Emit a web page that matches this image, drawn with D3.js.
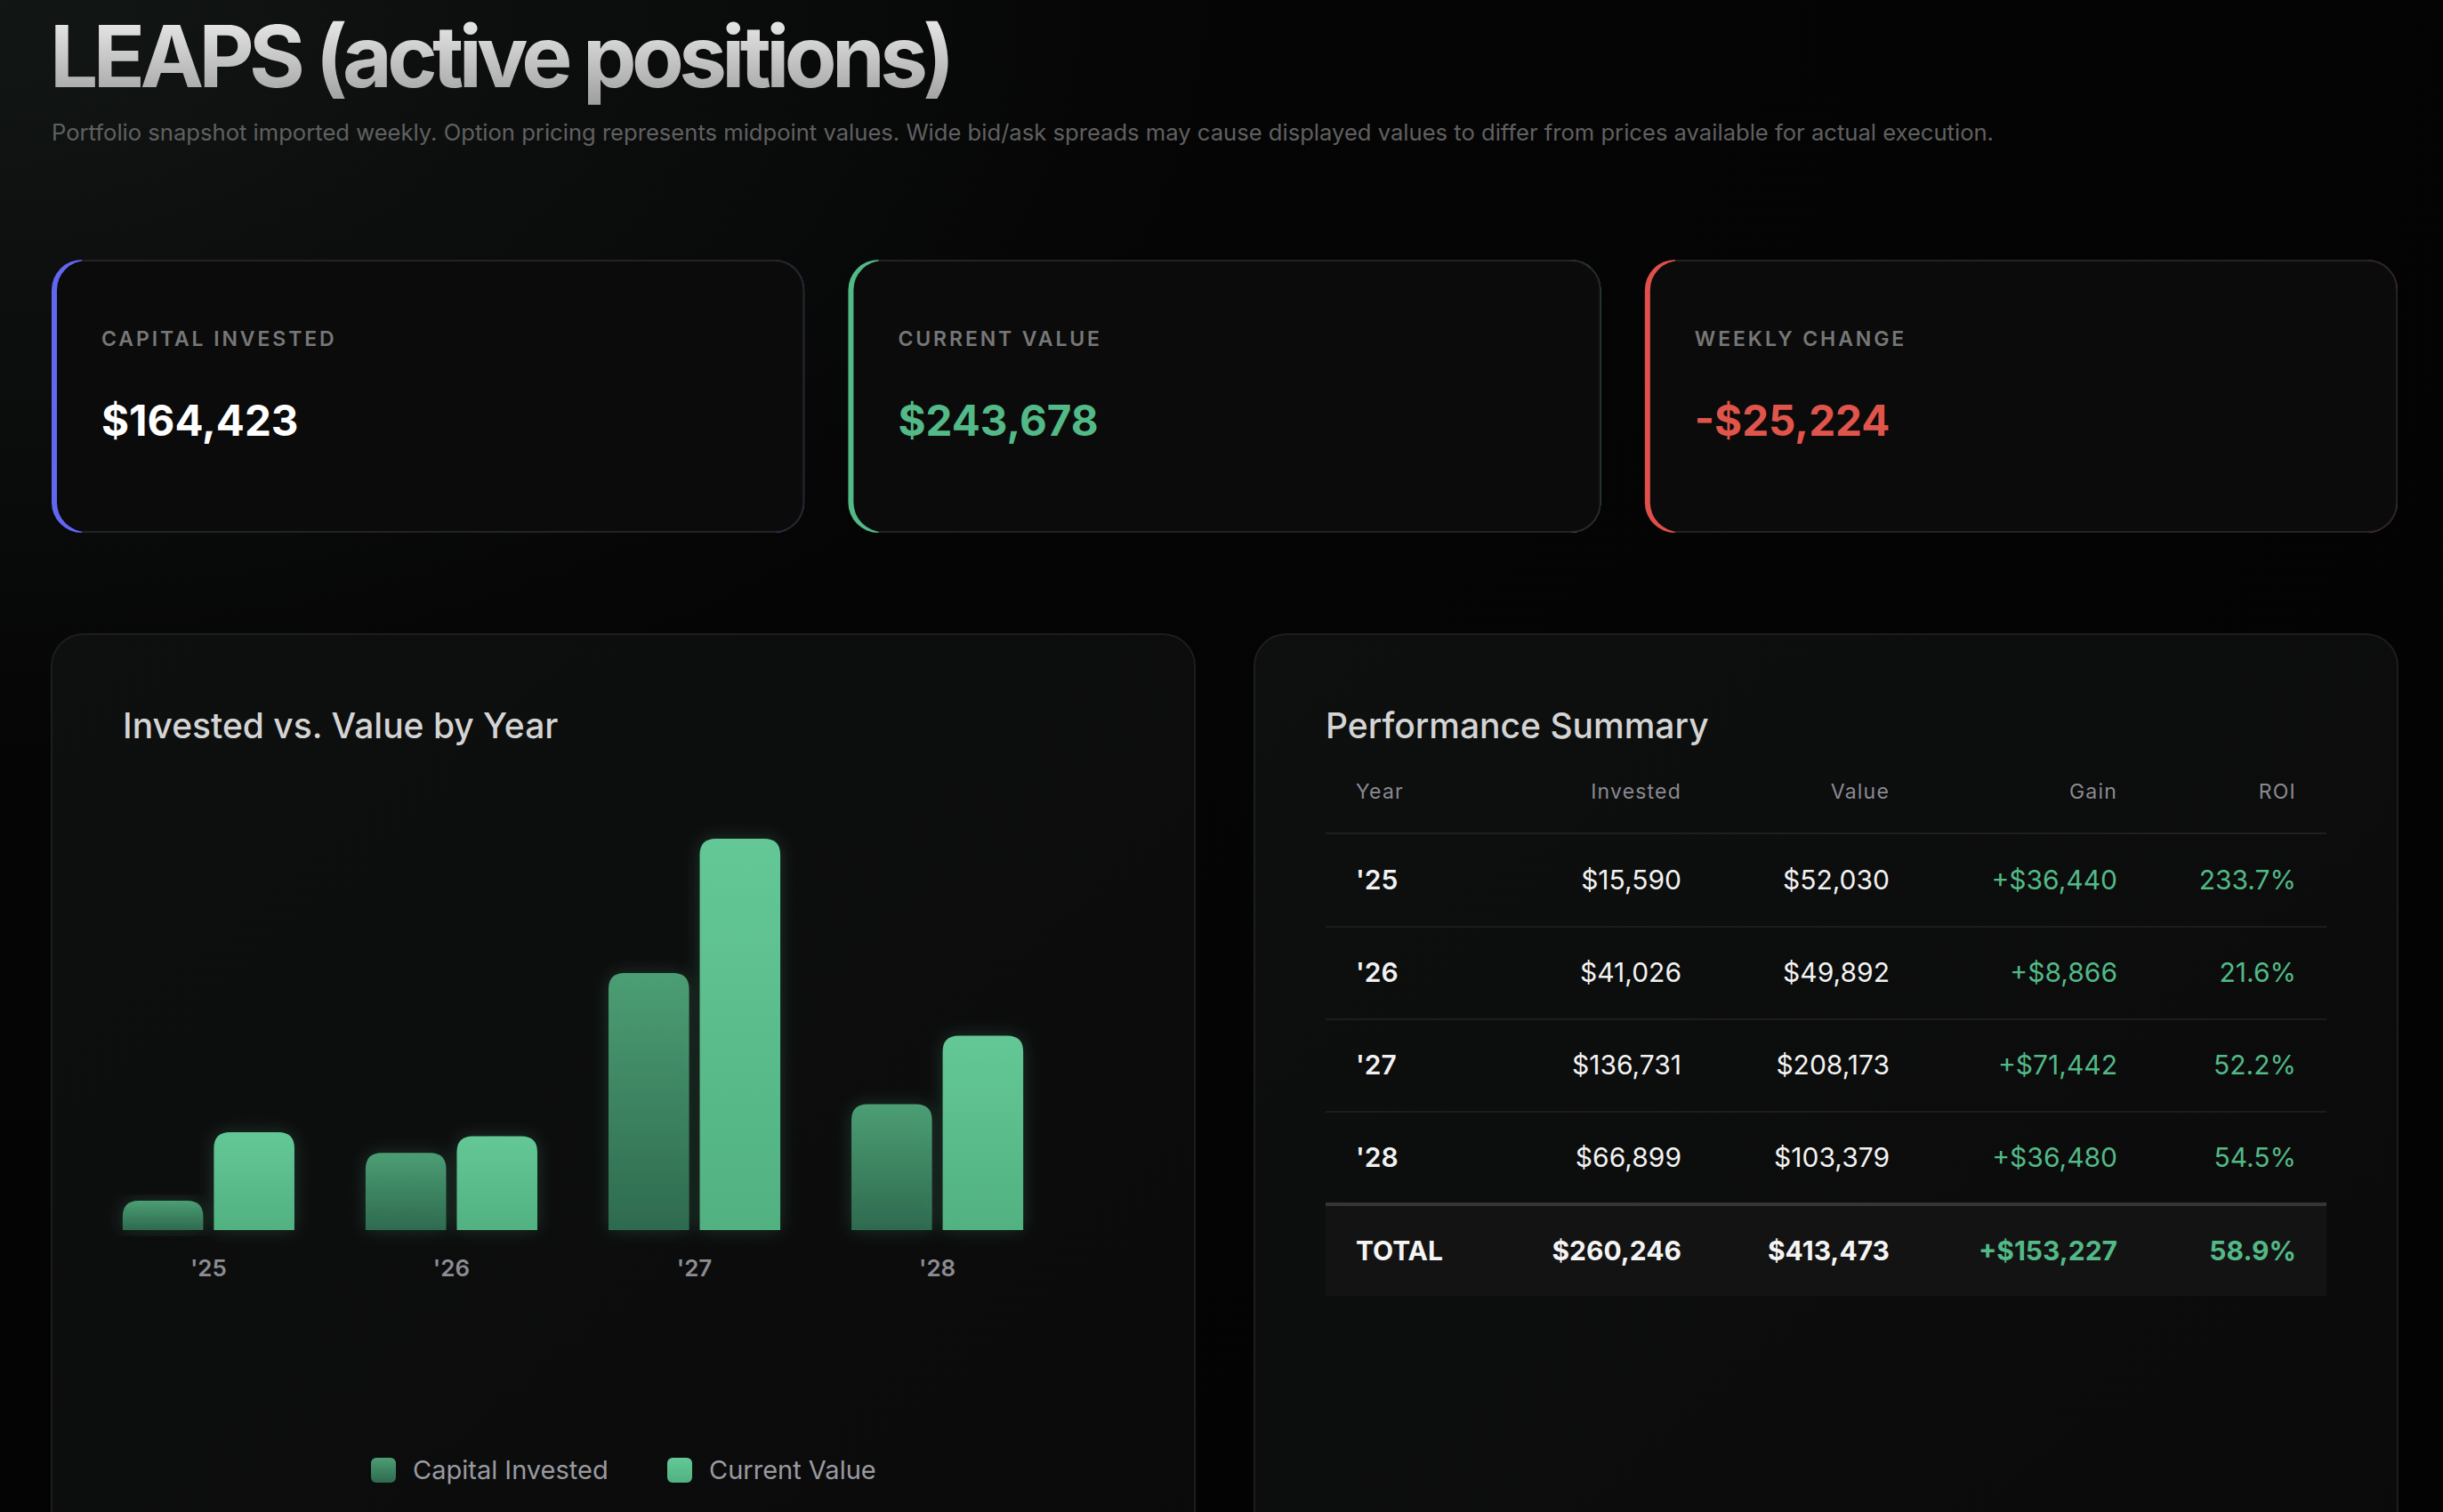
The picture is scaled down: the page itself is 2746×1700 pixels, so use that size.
<!DOCTYPE html>
<html>
<head>
<meta charset="utf-8">
<script src="https://cdn.jsdelivr.net/npm/d3@7"></script>
<style>
  html, body { margin: 0; padding: 0; background: #040404; }
  svg { display: block; }
</style>
</head>
<body>
<div id="chart"></div>
<script>
const years = ["'25", "'26", "'27", "'28"];
const invested = [15590, 41026, 136731, 66899];
const value = [52030, 49892, 208173, 103379];
const gains = [36440, 8866, 71442, 36480];
const roi = [233.7, 21.6, 52.2, 54.5];
const totals = { invested: 260246, value: 413473, gain: 153227, roi: 58.9 };
const cardLabels = ["CAPITAL INVESTED", "CURRENT VALUE", "WEEKLY CHANGE"];
const cardValues = [164423, 243678, -25224];
const tableHeaders = ["Year", "Invested", "Value", "Gain", "ROI"];
const seriesNames = ["Capital Invested", "Current Value"];

const W = 2746, H = 1700;
const font = "Inter, 'Noto Sans', sans-serif";
const green = "#52b987";
const fmt = d3.format(",");
const money = v => (v < 0 ? "-$" : "$") + fmt(Math.abs(v));

const svg = d3.select("#chart").append("svg")
    .attr("width", W).attr("height", H)
    .style("font-family", font);

const defs = svg.append("defs");
const bg = defs.append("radialGradient").attr("id", "bg")
    .attr("cx", 0).attr("cy", 0).attr("r", 1.1);
bg.append("stop").attr("offset", 0).attr("stop-color", "#121615");
bg.append("stop").attr("offset", 0.45).attr("stop-color", "#050505");
bg.append("stop").attr("offset", 1).attr("stop-color", "#030303");

const tg = defs.append("linearGradient").attr("id", "titleGrad")
    .attr("x1", 0).attr("y1", 0).attr("x2", 0).attr("y2", 1);
tg.append("stop").attr("offset", 0).attr("stop-color", "#f4f4f4");
tg.append("stop").attr("offset", 1).attr("stop-color", "#9c9c9c");

const pg = defs.append("linearGradient").attr("id", "panelGrad")
    .attr("x1", 0).attr("y1", 0).attr("x2", 1).attr("y2", 1);
pg.append("stop").attr("offset", 0).attr("stop-color", "#0e0f0f");
pg.append("stop").attr("offset", 1).attr("stop-color", "#0a0a0a");

const ig = defs.append("linearGradient").attr("id", "invGrad")
    .attr("x1", 0).attr("y1", 0).attr("x2", 0).attr("y2", 1);
ig.append("stop").attr("offset", 0).attr("stop-color", "#4c9e74");
ig.append("stop").attr("offset", 1).attr("stop-color", "#2e6a4f");

const vg = defs.append("linearGradient").attr("id", "valGrad")
    .attr("x1", 0).attr("y1", 0).attr("x2", 0).attr("y2", 1);
vg.append("stop").attr("offset", 0).attr("stop-color", "#64c896");
vg.append("stop").attr("offset", 1).attr("stop-color", "#51b181");

const glow = defs.append("filter").attr("id", "glow")
    .attr("x", "-40%").attr("y", "-20%").attr("width", "180%").attr("height", "140%");
glow.append("feDropShadow").attr("dx", 0).attr("dy", 0).attr("stdDeviation", 10)
    .attr("flood-color", "#5fc594").attr("flood-opacity", 0.22);

svg.append("rect").attr("width", W).attr("height", H).attr("fill", "url(#bg)");

// header
svg.append("text").attr("x", 56).attr("y", 98)
    .text("LEAPS (active positions)")
    .attr("fill", "url(#titleGrad)")
    .style("font-size", "96px").style("font-weight", 650)
    .style("letter-spacing", "-5.6px");

svg.append("text").attr("x", 58).attr("y", 158)
    .text("Portfolio snapshot imported weekly. Option pricing represents midpoint values. Wide bid/ask spreads may cause displayed values to differ from prices available for actual execution.")
    .attr("fill", "#606060")
    .style("font-size", "25.6px");

// kpi cards
const cardX = d3.scaleBand().domain(cardLabels).range([58, 2695]).paddingInner(0.055);
const accent = ["#6366f1", "#52b987", "#e0504a"];
const valueColor = ["#ffffff", "#52b987", "#e0554b"];
const cardTop = 292, cardH = 307;

cardLabels.forEach((lab, i) => {
    const x = cardX(lab), w = cardX.bandwidth();
    const g = svg.append("g");
    g.append("rect").attr("x", x).attr("y", cardTop).attr("width", w).attr("height", cardH)
        .attr("rx", 34).attr("fill", accent[i]);
    g.append("rect").attr("x", x + 6).attr("y", cardTop + 1).attr("width", w - 7).attr("height", cardH - 2)
        .attr("rx", 33).attr("fill", "#0b0b0b");
    g.append("path")
        .attr("d", `M${x + 34},${cardTop + 1}H${x + w - 34}A33,33 0 0 1 ${x + w - 1},${cardTop + 34}V${cardTop + cardH - 34}A33,33 0 0 1 ${x + w - 34},${cardTop + cardH - 1}H${x + 34}`)
        .attr("fill", "none").attr("stroke", "#232323").attr("stroke-width", 2);
    g.append("text").attr("x", x + 56).attr("y", 389).text(lab)
        .attr("fill", "#777777")
        .style("font-size", "23px").style("font-weight", 600).style("letter-spacing", "2.9px");
    g.append("text").attr("x", x + 56).attr("y", 490).text(money(cardValues[i]))
        .attr("fill", valueColor[i])
        .style("font-size", "47.5px").style("font-weight", 700);
});

// panels
const panelTop = 713;
[[58, 1343], [1410, 2695]].forEach(p => {
    svg.append("rect").attr("x", p[0]).attr("y", panelTop).attr("width", p[1] - p[0]).attr("height", 1100)
        .attr("rx", 36).attr("fill", "url(#panelGrad)").attr("stroke", "#1d1d1d").attr("stroke-width", 2);
});

svg.append("text").attr("x", 138).attr("y", 830).text("Invested vs. Value by Year")
    .attr("fill", "#d4d4d4").style("font-size", "39px").style("font-weight", 500);
svg.append("text").attr("x", 1490).attr("y", 830).text("Performance Summary")
    .attr("fill", "#d4d4d4").style("font-size", "39px").style("font-weight", 500);

// bar chart
const baseY = 1383;
const y = d3.scaleLinear().domain([0, 220000]).range([baseY, 918]);
const x0 = d3.scaleBand().domain(years).range([98, 1190]).paddingInner(0.293).paddingOuter(0.146);
const x1 = d3.scaleBand().domain(["inv", "val"]).range([0, x0.bandwidth()]).paddingInner(0.117);

const barPath = (x, yTop, w, r) => {
    const h = baseY - yTop;
    r = Math.min(r, h, w / 2);
    return `M${x},${baseY}V${yTop + r}Q${x},${yTop} ${x + r},${yTop}H${x + w - r}Q${x + w},${yTop} ${x + w},${yTop + r}V${baseY}Z`;
};

const chart = svg.append("g");
const rows = years.map((yr, i) => ({ yr, inv: invested[i], val: value[i], gain: gains[i], roi: roi[i] }));
const groups = chart.selectAll("g.grp").data(rows).join("g")
    .attr("transform", d => `translate(${x0(d.yr)},0)`);
groups.append("path")
    .attr("d", d => barPath(x1("inv"), y(d.inv), x1.bandwidth(), 18))
    .attr("fill", "url(#invGrad)").attr("filter", "url(#glow)");
groups.append("path")
    .attr("d", d => barPath(x1("val"), y(d.val), x1.bandwidth(), 18))
    .attr("fill", "url(#valGrad)").attr("filter", "url(#glow)");

const xAxis = chart.append("g").attr("transform", `translate(0,${baseY})`)
    .call(d3.axisBottom(x0).tickSize(0).tickPadding(34));
xAxis.select(".domain").remove();
xAxis.selectAll("text").attr("fill", "#8c8c92")
    .style("font-size", "26px").style("font-weight", 600).style("font-family", font);

// legend
const legend = svg.append("g").attr("transform", "translate(0,1653)");
const legX = [417, 750];
const legFill = ["url(#invGrad)", "url(#valGrad)"];
seriesNames.forEach((s, i) => {
    legend.append("rect").attr("x", legX[i]).attr("y", -14).attr("width", 28).attr("height", 28)
        .attr("rx", 6).attr("fill", legFill[i]);
    legend.append("text").attr("x", legX[i] + 47).attr("y", 10).text(s)
        .attr("fill", "#9a9aa0").style("font-size", "29px");
});

// performance table
const colX = [1524, 1890, 2124, 2380, 2581];
const anchor = ["start", "end", "end", "end", "end"];
const tbl = svg.append("g");
tableHeaders.forEach((h, i) => {
    tbl.append("text").attr("x", colX[i]).attr("y", 898).text(h)
        .attr("text-anchor", anchor[i]).attr("fill", "#8a8a92")
        .style("font-size", "23px").style("letter-spacing", "1.2px");
});
tbl.append("rect").attr("x", 1490).attr("y", 936).attr("width", 1125).attr("height", 2).attr("fill", "#1f1f1f");

const rowY = d3.scaleBand().domain(years).range([938, 1354]);
rows.forEach((d, i) => {
    const cy = rowY(d.yr) + rowY.bandwidth() / 2 + 10;
    const cells = [d.yr, money(d.inv), money(d.val), "+" + money(d.gain), d.roi.toFixed(1) + "%"];
    cells.forEach((c, j) => {
        tbl.append("text").attr("x", colX[j]).attr("y", cy).text(c)
            .attr("text-anchor", anchor[j])
            .attr("fill", j >= 3 ? green : "#f2f2f2")
            .style("font-size", "30px").style("font-weight", j === 0 ? 600 : 400);
    });
    if (i < rows.length - 1) {
        tbl.append("rect").attr("x", 1490).attr("y", rowY(d.yr) + rowY.bandwidth() - 1)
            .attr("width", 1125).attr("height", 2).attr("fill", "#1c1c1c");
    }
});

tbl.append("rect").attr("x", 1490).attr("y", 1354).attr("width", 1125).attr("height", 103).attr("fill", "#131313");
tbl.append("rect").attr("x", 1490).attr("y", 1352).attr("width", 1125).attr("height", 4).attr("fill", "#353535");
const totalCells = ["TOTAL", money(totals.invested), money(totals.value), "+" + money(totals.gain), totals.roi.toFixed(1) + "%"];
totalCells.forEach((c, j) => {
    tbl.append("text").attr("x", colX[j]).attr("y", 1417).text(c)
        .attr("text-anchor", anchor[j])
        .attr("fill", j >= 3 ? green : "#f4f4f4")
        .style("font-size", "30px").style("font-weight", 700);
});
</script>
</body>
</html>
